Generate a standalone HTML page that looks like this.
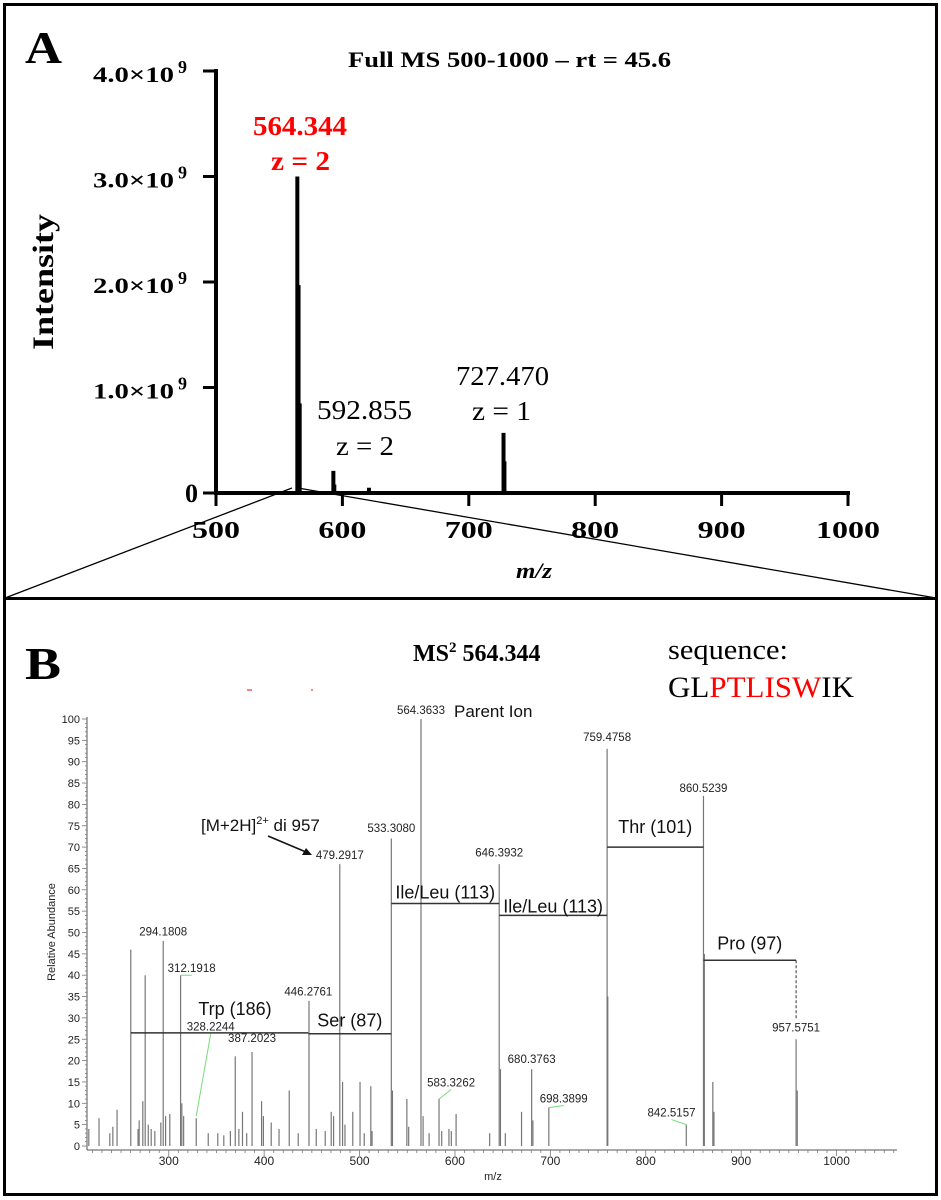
<!DOCTYPE html>
<html><head><meta charset="utf-8">
<style>
html,body{margin:0;padding:0;background:#fff;}
svg{display:block;}
.serif{font-family:"Liberation Serif","Times New Roman",serif;}
.sans{font-family:"Liberation Sans",Arial,sans-serif;}
</style></head>
<body>
<svg id="fig" width="941" height="1200" viewBox="0 0 941 1200" xmlns="http://www.w3.org/2000/svg">
  <rect x="4.5" y="4.5" width="932" height="594" fill="none" stroke="#000" stroke-width="3"/>
  <rect x="4.5" y="598.5" width="932" height="596" fill="none" stroke="#000" stroke-width="3"/>
  <g id="panelA"></g>
  <g id="panelB"></g>
</svg>
<script>
// ---------- Panel A data ----------
const aTickValues = [0, 1, 2, 3, 4];             // x10^9
const aTickLabels = ["0", "1.0×10", "2.0×10", "3.0×10", "4.0×10"];
const aXTicks = [500, 600, 700, 800, 900, 1000];
const aPeakMz = [564.344, 565.3, 566.2, 592.855, 593.6, 621.0, 700.0, 727.470, 728.2, 752.0, 870.0, 957.0];
const aPeakInt = [3.0, 1.97, 0.85, 0.21, 0.08, 0.05, 0.01, 0.57, 0.30, 0.01, 0.01, 0.01];

// ---------- Panel B data ----------
const bYTicks = [0,5,10,15,20,25,30,35,40,45,50,55,60,65,70,75,80,85,90,95,100];
const bXTicks = [300,400,500,600,700,800,900,1000];
const bPeakMz = [216.2,226.9,238.2,241.4,245.8,260.2,267.8,269.0,272.8,275.3,278.5,281.6,285.4,291.7,294.2,296.7,301.1,312.4,313.7,315.6,328.8,341.4,351.4,357.7,364.6,369.7,373.5,377.3,381.7,387.3,397.3,399.2,407.4,415.6,426.3,435.7,447.0,454.6,464.0,470.3,472.8,479.3,482.2,484.7,492.9,500.5,504.9,511.8,513.1,533.3,534.5,549.6,551.5,564.4,566.6,572.9,583.3,586.1,593.7,596.2,601.2,636.4,646.4,647.7,652.8,669.8,680.4,681.7,698.4,759.5,760.2,842.5,860.5,861.4,870.3,871.5,957.6,958.8];
const bPeakRel = [4,6.5,3,4.5,8.5,46,4,6,10.5,40,5,4,3.5,5.5,48,7,7.5,40,10,7,6.5,3,3,2.5,3.5,21,4,8,3,22,10.5,7,5.5,4,13,3,34,4,3.5,8,7,66,15,5,8,15,3,14,3.5,72,13,11,4.5,100,7,3,11,3.5,4,3.5,7.5,3,66,18,3,8,18,6,9,93,35,5,82,45,15,8,25,13];
const bLabelText = ["294.1808","312.1918","328.2244","387.2023","446.2761","479.2917","533.3080","564.3633","583.3262","646.3932","680.3763","698.3899","759.4758","842.5157","860.5239","957.5751"];
const bLabelMz   = [294.2,312.4,328.8,387.3,447.0,479.3,533.3,564.4,583.3,646.4,680.4,698.4,759.5,842.5,860.5,957.6];
const bLabelRel  = [48,40,7,22,34,66,72,100,11,66,18,9,93,5,82,25];
// label anchor (m/z, rel) where text sits
const bLabelAtMz  = [294.2,324.0,344.0,387.3,446.3,479.3,533.3,564.4,596.0,646.4,680.4,714.0,759.5,827.0,860.5,957.6];
const bLabelAtRel = [49.3,40.7,27.0,24.4,35.2,67.2,73.5,101.2,13.9,67.8,19.4,10.2,94.8,6.9,82.9,26.8];
const fragName = ["Trp (186)","Ser (87)","Ile/Leu (113)","Ile/Leu (113)","Thr (101)","Pro (97)"];
const fragFrom = [260.2,446.3,533.3,646.4,759.5,860.5];
const fragTo   = [446.3,533.3,646.4,759.5,860.5,957.6];
const fragRel  = [26.5,26.3,56.8,54.0,70.0,43.5];

const NS = "http://www.w3.org/2000/svg";
function mk(parent, tag, attrs, text){
  const e = document.createElementNS(NS, tag);
  for (const k in attrs) e.setAttribute(k, attrs[k]);
  if (text !== undefined) e.textContent = text;
  parent.appendChild(e);
  return e;
}

// ---------- Panel A ----------
const A = document.getElementById("panelA");
const xA = m => 216 + (m - 500) * 1.264;
const yA = v => 493 - v * 105.5;

let t = mk(A, "text", {x:25, y:63, "font-size":46, "font-weight":"bold", class:"serif", textLength:37, lengthAdjust:"spacingAndGlyphs"}, "A");


t = mk(A, "text", {x:348, y:67, "font-size":22, "font-weight":"bold", class:"serif", textLength:323, lengthAdjust:"spacingAndGlyphs"}, "Full MS 500-1000 – rt = 45.6");



ax = mk(A, "line", {x1:xA(500), y1:69, x2:xA(500), y2:495, stroke:"#000", "stroke-width":4});


ax = mk(A, "line", {x1:xA(500)-2, y1:yA(0), x2:xA(1000)+2, y2:yA(0), stroke:"#000", "stroke-width":4});



aTickValues.forEach((v, i) => {
  const y = yA(v);
  const tk = mk(A, "line", {x1:203, y1:y, x2:216, y2:y, stroke:"#000", "stroke-width":3});
  
  
  if (v === 0) {
    const l = mk(A, "text", {x:198, y:y+9, "font-size":26, "font-weight":"bold", class:"serif", "text-anchor":"end"}, aTickLabels[i]);
    
    
  } else {
    const l = mk(A, "text", {x:93, y:y+11, "font-size":22, "font-weight":"bold", class:"serif", textLength:81, lengthAdjust:"spacingAndGlyphs"}, aTickLabels[i]);
    
    
    const s = mk(A, "text", {x:178, y:y+2, "font-size":18, "font-weight":"bold", class:"serif"}, "9");
    
    
  }
});
aXTicks.forEach(m => {
  const x = xA(m);
  const tk = mk(A, "line", {x1:x, y1:yA(0), x2:x, y2:yA(0)+13, stroke:"#000", "stroke-width":3});
  
  
  const w = m === 1000 ? 64 : 48;
  const l = mk(A, "text", {x:x - w/2, y:538, "font-size":24, "font-weight":"bold", class:"serif", textLength:w, lengthAdjust:"spacingAndGlyphs"}, String(m));
  
  
});
t = mk(A, "text", {x:516, y:578, "font-size":22, "font-weight":"bold", "font-style":"italic", class:"serif", textLength:36, lengthAdjust:"spacingAndGlyphs"}, "m/z");


t = mk(A, "text", {x:0, y:0, "font-size":30, "font-weight":"bold", class:"serif", "text-anchor":"middle", textLength:136, lengthAdjust:"spacingAndGlyphs", transform:"translate(53,282) rotate(-90)"}, "Intensity");



aPeakMz.forEach((m, i) => {
  const p = mk(A, "line", {x1:xA(m), y1:yA(0), x2:xA(m), y2:yA(aPeakInt[i]), stroke:"#000", "stroke-width":4});
  
  
});

const aLabels = [
  {s:"564.344", x:253, y:135, w:94, c:"#f00", b:true, n:"label-564"},
  {s:"z = 2", x:271, y:170, w:59, c:"#f00", b:true, n:"label-564-charge"},
  {s:"592.855", x:317, y:419, w:95, c:"#000", b:false, n:"label-592"},
  {s:"z = 2", x:336, y:455, w:58, c:"#000", b:false, n:"label-592-charge"},
  {s:"727.470", x:456, y:385, w:93, c:"#000", b:false, n:"label-727"},
  {s:"z = 1", x:472, y:420, w:59, c:"#000", b:false, n:"label-727-charge"}
];
aLabels.forEach(L => {
  const e = mk(A, "text", {x:L.x, y:L.y, "font-size":27, fill:L.c, "font-weight":L.b?"bold":"normal", class:"serif", textLength:L.w, lengthAdjust:"spacingAndGlyphs"}, L.s);
  
  
});
let zl = mk(A, "line", {x1:5, y1:598, x2:292, y2:488, stroke:"#000", "stroke-width":1.3});


zl = mk(A, "line", {x1:936, y1:598, x2:298, y2:488, stroke:"#000", "stroke-width":1.3});



// ---------- Panel B ----------
const B = document.getElementById("panelB");
const xB = m => 163.2 + (m - 294.18) * 0.954;
const yB = v => 1146 - v * 4.27;

t = mk(B, "text", {x:25, y:679, "font-size":46, "font-weight":"bold", class:"serif", textLength:36, lengthAdjust:"spacingAndGlyphs"}, "B");


t = mk(B, "text", {x:413, y:661, "font-size":24, "font-weight":"bold", class:"serif"});


mk(t, "tspan", {}, "MS");
mk(t, "tspan", {dy:-9, "font-size":15}, "2");
mk(t, "tspan", {dy:9}, " 564.344");
t = mk(B, "text", {x:668, y:659, "font-size":29, class:"serif", textLength:120, lengthAdjust:"spacingAndGlyphs"}, "sequence:");


t = mk(B, "text", {x:668, y:697, "font-size":30, class:"serif", textLength:186, lengthAdjust:"spacingAndGlyphs"});


mk(t, "tspan", {}, "GL");
mk(t, "tspan", {fill:"#f00"}, "PTLISW");
mk(t, "tspan", {}, "IK");
let rm = mk(B, "line", {x1:247, y1:690, x2:252, y2:690, stroke:"#f55", "stroke-width":1.5});


rm = mk(B, "line", {x1:311, y1:690, x2:313, y2:690, stroke:"#f55", "stroke-width":1.5});



ax = mk(B, "line", {x1:87, y1:yB(100)-2, x2:87, y2:yB(0)+4, stroke:"#555", "stroke-width":1});


ax = mk(B, "line", {x1:87, y1:yB(0)+4, x2:897, y2:yB(0)+4, stroke:"#555", "stroke-width":1});


for (let v = 0; v <= 100; v += 1) {
  const major = v % 5 === 0;
  const tk = mk(B, "line", {x1:major?82:85, y1:yB(v), x2:87, y2:yB(v), stroke:"#777", "stroke-width":0.8});
  
  
}
bYTicks.forEach(v => {
  const l = mk(B, "text", {x:80, y:yB(v)+4, "font-size":11, class:"sans", "text-anchor":"end", fill:"#222"}, String(v));
  
  
});
for (let m = 220; m <= 1060; m += 10) {
  const major = m % 100 === 0;
  const tk = mk(B, "line", {x1:xB(m), y1:yB(0)+4, x2:xB(m), y2:yB(0)+(major?10:7), stroke:"#777", "stroke-width":0.8});
  
  
}
bXTicks.forEach(m => {
  const l = mk(B, "text", {x:xB(m), y:1165, "font-size":12, class:"sans", "text-anchor":"middle", fill:"#222"}, String(m));
  
  
});
t = mk(B, "text", {x:493, y:1180, "font-size":11, class:"sans", "text-anchor":"middle", fill:"#222"}, "m/z");


t = mk(B, "text", {x:0, y:0, "font-size":11, class:"sans", "text-anchor":"middle", fill:"#222", transform:"translate(55,932) rotate(-90)"}, "Relative Abundance");



bPeakMz.forEach((m, i) => {
  const p = mk(B, "line", {x1:xB(m), y1:yB(0), x2:xB(m), y2:yB(bPeakRel[i]), stroke:"#777", "stroke-width":1.2});
  
  
});

bLabelText.forEach((s, i) => {
  const lx = xB(bLabelAtMz[i]), ly = yB(bLabelAtRel[i]);
  const off = Math.abs(bLabelAtMz[i] - bLabelMz[i]) > 3;
  if (off) {
    const g = mk(B, "line", {x1:xB(bLabelMz[i]), y1:yB(bLabelRel[i]), x2:lx, y2:ly + 3, stroke:"#7d7", "stroke-width":1});
    
    
  }
  const l = mk(B, "text", {x:lx, y:ly, "font-size":11.5, class:"sans", "text-anchor":"middle", fill:"#222"}, s);
  
  
});
t = mk(B, "text", {x:454, y:717, "font-size":17, class:"sans", fill:"#111"}, "Parent Ion");



const fragLabelDy = [18, 7, 5, 3, 14, 11];
fragName.forEach((s, i) => {
  const x1 = xB(fragFrom[i]), x2 = xB(fragTo[i]), y = yB(fragRel[i]);
  const ln = mk(B, "line", {x1:x1, y1:y, x2:x2, y2:y, stroke:"#333", "stroke-width":1.5});
  
  
  const cx = i === 0 ? 235 : (x1 + x2) / 2;
  const l = mk(B, "text", {x:cx, y:y - fragLabelDy[i], "font-size":18, class:"sans", "text-anchor":"middle", fill:"#111"}, s);
  
  
});
const dsh = mk(B, "line", {x1:xB(fragTo[5]), y1:yB(fragRel[5]), x2:xB(fragTo[5]), y2:yB(bLabelAtRel[15])-12, stroke:"#333", "stroke-width":1, "stroke-dasharray":"3,2"});



t = mk(B, "text", {x:201, y:831, "font-size":17, class:"sans", fill:"#111"});


mk(t, "tspan", {}, "[M+2H]");
mk(t, "tspan", {dy:-7, "font-size":11}, "2+");
mk(t, "tspan", {dy:7}, " di 957");
const ar = mk(B, "line", {x1:268, y1:836, x2:306, y2:852, stroke:"#111", "stroke-width":1.5});


const ah = mk(B, "polygon", {points:"312,855 302,855 306,848", fill:"#111"});


</script>
</body></html>
